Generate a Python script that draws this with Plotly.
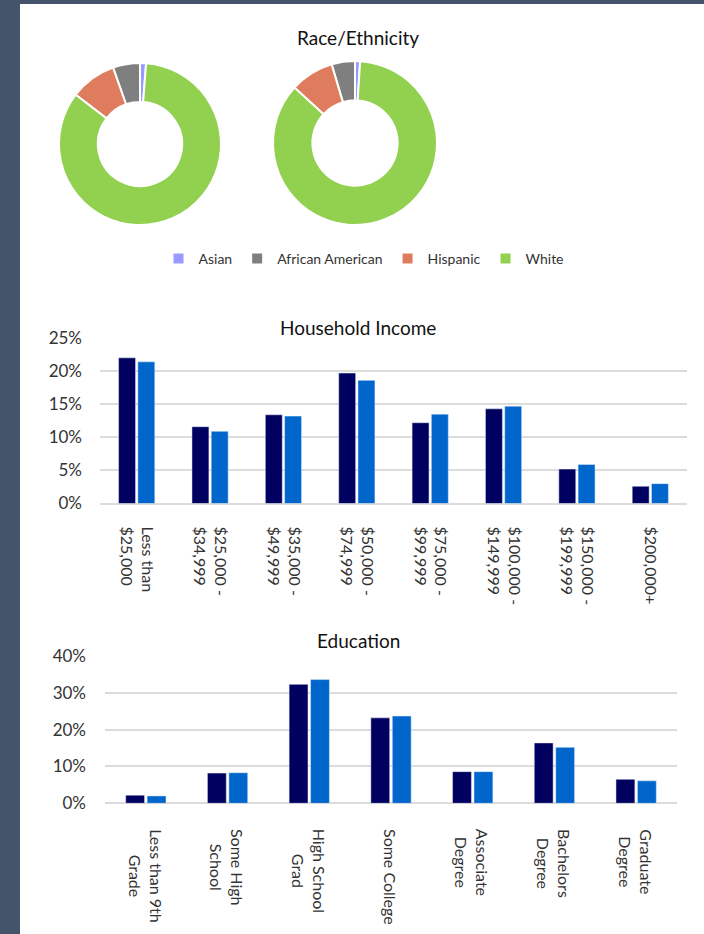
import plotly.graph_objects as go

W, H = 704, 934
FONT = "Lato"

# ---------------- data ----------------
race_labels = ["Asian", "African American", "Hispanic", "White"]
race_colors = ["#9999FF", "#7F7F7F", "#E07C5E", "#92D050"]
race_left = [1.2, 5.4, 9.2, 84.2]
race_right = [1.0, 4.6, 8.6, 85.8]

income_cats = ["Less than<br>$25,000", "$25,000 -<br>$34,999", "$35,000 -<br>$49,999",
               "$50,000 -<br>$74,999", "$75,000 -<br>$99,999", "$100,000 -<br>$149,999",
               "$150,000 -<br>$199,999", "$200,000+"]
income_a = [22.0, 11.6, 13.4, 19.7, 12.2, 14.3, 5.2, 2.6]
income_b = [21.4, 10.9, 13.2, 18.6, 13.5, 14.7, 5.9, 3.0]

edu_cats = ["Less than 9th<br>Grade", "Some High<br>School", "High School<br>Grad",
            "Some College", "Associate<br>Degree", "Bachelors<br>Degree", "Graduate<br>Degree"]
edu_a = [2.2, 8.2, 32.3, 23.2, 8.6, 16.4, 6.5]
edu_b = [2.0, 8.3, 33.6, 23.7, 8.6, 15.2, 6.1]

dark = "#000060"
light = "#0066CC"
grid = "#DCDCDC"
txt = "#333333"


def fx(x):
    return x / W


def fy(y):
    return 1 - y / H


fig = go.Figure()

# ---------------- donuts ----------------
for vals, (x0, x1, y0, y1) in [(race_left, (59, 221, 63, 225)), (race_right, (273, 437, 61, 225))]:
    fig.add_trace(go.Pie(
        labels=race_labels, values=vals, hole=0.52, sort=False,
        direction="counterclockwise", rotation=0,
        marker=dict(colors=race_colors, line=dict(color="white", width=2)),
        textinfo="none", hoverinfo="label+percent",
        domain=dict(x=[fx(x0), fx(x1)], y=[fy(y1), fy(y0)]),
    ))

# ---------------- income bars ----------------
fig.add_trace(go.Bar(x=income_cats, y=income_a, marker_color=dark, xaxis="x", yaxis="y", showlegend=False))
fig.add_trace(go.Bar(x=income_cats, y=income_b, marker_color=light, xaxis="x", yaxis="y", showlegend=False))

# ---------------- education bars ----------------
fig.add_trace(go.Bar(x=edu_cats, y=edu_a, marker_color=dark, xaxis="x2", yaxis="y2", showlegend=False))
fig.add_trace(go.Bar(x=edu_cats, y=edu_b, marker_color=light, xaxis="x2", yaxis="y2", showlegend=False))

annotations = [
    dict(text="Race/Ethnicity", x=fx(358), y=fy(38), xref="paper", yref="paper",
         showarrow=False, font=dict(size=19, color="#111", family=FONT), xanchor="center", yanchor="middle"),
    dict(text="Household Income", x=fx(358), y=fy(327), xref="paper", yref="paper",
         showarrow=False, font=dict(size=19, color="#111", family=FONT), xanchor="center", yanchor="middle"),
    dict(text="Education", x=fx(358), y=fy(640), xref="paper", yref="paper",
         showarrow=False, font=dict(size=19, color="#111", family=FONT), xanchor="center", yanchor="middle"),
]
for c in edu_cats:
    annotations.append(dict(text=c, x=c, xref="x2", y=fy(827), yref="paper", yanchor="top",
                            xanchor="center", textangle=90, align="center", showarrow=False,
                            font=dict(size=16, color=txt, family=FONT)))

fig.update_layout(
    width=W, height=H, autosize=False,
    margin=dict(l=0, r=0, t=0, b=0, pad=0, autoexpand=False),
    paper_bgcolor="#44546A", plot_bgcolor="white",
    font=dict(family=FONT, color=txt),
    barmode="group", bargap=0.475, bargroupgap=0.12,
    showlegend=True,
    legend=dict(orientation="h", x=fx(364), xanchor="center", y=fy(259), yanchor="middle",
                font=dict(size=14, color=txt, family=FONT), bgcolor="rgba(0,0,0,0)",
                itemclick=False),
    shapes=[dict(type="rect", xref="paper", yref="paper", x0=fx(20), x1=1, y0=0, y1=fy(4),
                 fillcolor="white", line=dict(width=0), layer="below")],
    annotations=annotations,
    xaxis=dict(domain=[fx(100), fx(687)], anchor="y", tickangle=90, showgrid=False,
               showline=False, ticks="", tickfont=dict(size=16, color=txt, family=FONT),
               ticklabelstandoff=22, fixedrange=True, automargin=False),
    yaxis=dict(domain=[fy(503.5), fy(338)], anchor="x", range=[0, 25], dtick=5, ticksuffix="%",
               gridcolor=grid, gridwidth=1.5, zeroline=True, zerolinecolor=grid, zerolinewidth=1.5,
               showline=False, tickfont=dict(size=17, color=txt, family=FONT),
               ticklabelstandoff=17, fixedrange=True, automargin=False),
    xaxis2=dict(domain=[fx(105), fx(677)], anchor="y2", showticklabels=False, showgrid=False,
                showline=False, ticks="", fixedrange=True, automargin=False),
    yaxis2=dict(domain=[fy(803.3), fy(656)], anchor="x2", range=[0, 40], dtick=10, ticksuffix="%",
                gridcolor=grid, gridwidth=1.5, zeroline=True, zerolinecolor=grid, zerolinewidth=1.5,
                showline=False, tickfont=dict(size=17, color=txt, family=FONT),
                ticklabelstandoff=18, fixedrange=True, automargin=False),
)

fig.write_html("out.html", config={"displayModeBar": False},
               post_script="document.body.style.margin='0';")
